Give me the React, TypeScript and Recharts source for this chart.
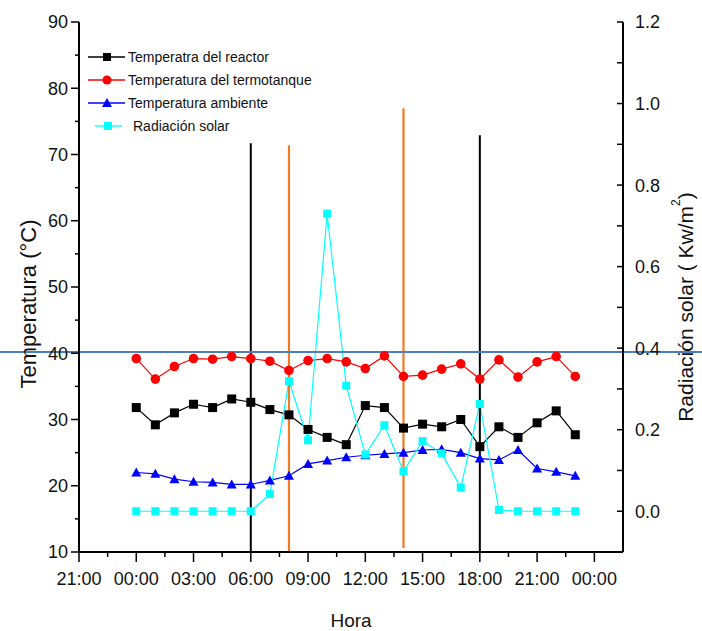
import React from "react";
import { LineChart, Line, XAxis, YAxis, ReferenceLine, Legend, Label } from "recharts";

// Horas del día (0 = 00:00) y lecturas horarias
const horas = [0, 1, 2, 3, 4, 5, 6, 7, 8, 9, 10, 11, 12, 13, 14, 15, 16, 17, 18, 19, 20, 21, 22, 23];
const reactor = [31.8, 29.2, 31.0, 32.3, 31.8, 33.1, 32.6, 31.5, 30.7, 28.5, 27.3, 26.2, 32.1, 31.8, 28.7, 29.3, 28.9, 30.0, 25.9, 28.9, 27.3, 29.5, 31.3, 27.7];
const termotanque = [39.2, 36.1, 38.0, 39.2, 39.1, 39.5, 39.2, 38.8, 37.4, 38.9, 39.2, 38.7, 37.7, 39.6, 36.5, 36.7, 37.6, 38.4, 36.1, 39.0, 36.4, 38.7, 39.5, 36.5];
const ambiente = [22.0, 21.8, 21.0, 20.6, 20.5, 20.2, 20.2, 20.8, 21.5, 23.3, 23.8, 24.3, 24.6, 24.8, 25.0, 25.4, 25.5, 25.0, 24.1, 23.9, 25.4, 22.6, 22.1, 21.5];
const radiacion = [0, 0, 0, 0, 0, 0, 0, 0.042, 0.319, 0.174, 0.73, 0.308, 0.139, 0.211, 0.098, 0.172, 0.142, 0.058, 0.263, 0.003, 0, 0, 0, 0];

// Ejes
const horaTicks = [-3, -1.5, 0, 1.5, 3, 4.5, 6, 7.5, 9, 10.5, 12, 13.5, 15, 16.5, 18, 19.5, 21, 22.5, 24];
const tempTicks = [10, 15, 20, 25, 30, 35, 40, 45, 50, 55, 60, 65, 70, 75, 80, 85, 90];
const radTicks = [0, 0.1, 0.2, 0.3, 0.4, 0.5, 0.6, 0.7, 0.8, 0.9, 1.0, 1.1, 1.2];

// Marcas verticales: hora, temperatura de inicio y de fin
const marcasNegras = [
  { hora: 6, desde: 10, hasta: 71.7 },
  { hora: 18, desde: 10, hasta: 72.9 },
];
const marcasNaranjas = [
  { hora: 8, desde: 10, hasta: 71.4 },
  { hora: 14, desde: 10.6, hasta: 77.0 },
];
const nivelHorizontal = 40.2;

const data = horas.map((h, i) => ({
  hora: h,
  reactor: reactor[i],
  termotanque: termotanque[i],
  ambiente: ambiente[i],
  radiacion: radiacion[i],
}));

const FONT = "'Liberation Sans', Arial, sans-serif";

const fmtHora = (v: number) => {
  const h = ((v % 24) + 24) % 24;
  return `${String(h).padStart(2, "0")}:00`;
};

function HoraTick(props: any) {
  const { x, y, payload } = props;
  const v = payload.value;
  const major = Number.isInteger(v) && v % 3 === 0;
  return (
    <g>
      <line x1={x} y1={y} x2={x} y2={y + (major ? 10 : 5)} stroke="#000" strokeWidth={1.5} />
      {major && (
        <text x={x} y={y + 33} textAnchor="middle" fontSize={18} fontFamily={FONT} fill="#111">
          {fmtHora(v)}
        </text>
      )}
    </g>
  );
}

function TopTick(props: any) {
  const { x, y, payload } = props;
  const major = Number.isInteger(payload.value) && payload.value % 3 === 0;
  return <line x1={x} y1={y} x2={x} y2={y + (major ? 5 : 3)} stroke="#000" strokeWidth={1} />;
}

function TempTick(props: any) {
  const { x, y, payload } = props;
  const major = payload.value % 10 === 0;
  return (
    <g>
      <line x1={x - (major ? 8 : 4)} y1={y} x2={x} y2={y} stroke="#000" strokeWidth={1.5} />
      {major && (
        <text x={x - 11} y={y} dy="0.36em" textAnchor="end" fontSize={18} fontFamily={FONT} fill="#111">
          {payload.value}
        </text>
      )}
    </g>
  );
}

function RadTick(props: any) {
  const { x, y, payload } = props;
  const major = Math.round(payload.value * 10) % 2 === 0;
  return (
    <g>
      <line x1={x - 6} y1={y} x2={x} y2={y} stroke="#000" strokeWidth={1.5} />
      {major && (
        <text x={x + 12} y={y} dy="0.36em" textAnchor="start" fontSize={18} fontFamily={FONT} fill="#111">
          {payload.value.toFixed(1)}
        </text>
      )}
    </g>
  );
}

const squareDot = (color: string, size: number) => (p: any) => (
  <rect key={`sq-${color}-${p.index}`} x={p.cx - size / 2} y={p.cy - size / 2} width={size} height={size} fill={color} />
);
const circleDot = (color: string, r: number) => (p: any) => (
  <circle key={`ci-${p.index}`} cx={p.cx} cy={p.cy} r={r} fill={color} />
);
const triangleDot = (color: string, s: number) => (p: any) => (
  <polygon
    key={`tr-${p.index}`}
    points={`${p.cx},${p.cy - s / 2} ${p.cx - s / 2},${p.cy + s / 2 - 1} ${p.cx + s / 2},${p.cy + s / 2 - 1}`}
    fill={color}
  />
);

const leyenda = [
  { nombre: "Temperatra del reactor", color: "#000000", marca: "square" },
  { nombre: "Temperatura del termotanque", color: "#ff0000", marca: "circle" },
  { nombre: "Temperatura ambiente", color: "#0000ff", marca: "triangle" },
  { nombre: "Radiación solar", color: "#00ffff", marca: "dash" },
];

function Leyenda() {
  return (
    <svg width={230} height={100} style={{ display: "block" }}>
      {leyenda.map((s, i) => {
        const cy = 13 + i * 23;
        const dashed = s.marca === "dash";
        const mx = dashed ? 22 : 21;
        return (
          <g key={s.nombre}>
            {dashed ? (
              <>
                <line x1={9} y1={cy} x2={18} y2={cy} stroke={s.color} strokeWidth={1.3} />
                <line x1={26} y1={cy} x2={36} y2={cy} stroke={s.color} strokeWidth={1.3} />
                <rect x={mx - 4} y={cy - 4} width={8} height={8} fill={s.color} />
              </>
            ) : (
              <>
                <line x1={2} y1={cy} x2={39} y2={cy} stroke={s.color} strokeWidth={1.3} />
                {s.marca === "square" && <rect x={mx - 4} y={cy - 4} width={8} height={8} fill={s.color} />}
                {s.marca === "circle" && <circle cx={mx} cy={cy} r={4.5} fill={s.color} />}
                {s.marca === "triangle" && (
                  <polygon points={`${mx},${cy - 5} ${mx - 5},${cy + 4} ${mx + 5},${cy + 4}`} fill={s.color} />
                )}
              </>
            )}
            <text x={dashed ? 47 : 42} y={cy} dy="0.36em" fontSize={14} fontFamily={FONT} fill="#111">
              {s.nombre}
            </text>
          </g>
        );
      })}
    </svg>
  );
}

export default function App() {
  return (
    <div style={{ position: "absolute", left: 0, top: 0, background: "#fff" }}>
      <LineChart
        width={702}
        height={631}
        data={data}
        margin={{ top: 22, right: 0, bottom: 0, left: 0 }}
        style={{ fontFamily: FONT }}
      >
        <XAxis
          dataKey="hora"
          type="number"
          domain={[-3, 25.5]}
          ticks={horaTicks}
          interval={0}
          height={79}
          tickSize={0}
          tickMargin={0}
          tickLine={false}
          tick={<HoraTick />}
          axisLine={{ stroke: "#000", strokeWidth: 2 }}
          allowDataOverflow
        >
          <Label
            content={(p: any) => {
              const vb = p.viewBox;
              return (
                <text x={vb.x + vb.width / 2} y={vb.y + 75} textAnchor="middle" fontSize={19} fontFamily={FONT} fill="#111">
                  Hora
                </text>
              );
            }}
          />
        </XAxis>
        <XAxis
          xAxisId="top"
          orientation="top"
          dataKey="hora"
          type="number"
          domain={[-3, 25.5]}
          ticks={horaTicks}
          interval={0}
          height={0}
          tickSize={0}
          tickMargin={0}
          tickLine={false}
          tick={<TopTick />}
          axisLine={{ stroke: "#000", strokeWidth: 2 }}
          allowDataOverflow
        />
        <YAxis
          yAxisId="temp"
          type="number"
          domain={[10, 90]}
          ticks={tempTicks}
          interval={0}
          width={79}
          tickSize={0}
          tickMargin={0}
          tickLine={false}
          tick={<TempTick />}
          axisLine={{ stroke: "#000", strokeWidth: 2 }}
          allowDataOverflow
        >
          <Label
            content={(p: any) => {
              const vb = p.viewBox;
              const cx = vb.x + 28;
              const cy = vb.y + vb.height / 2 + 17;
              return (
                <text
                  x={cx}
                  y={cy}
                  transform={`rotate(-90, ${cx}, ${cy})`}
                  textAnchor="middle"
                  dominantBaseline="central"
                  fontSize={22}
                  fontFamily={FONT}
                  fill="#111"
                >
                  Temperatura (°C)
                </text>
              );
            }}
          />
        </YAxis>
        <YAxis
          yAxisId="rad"
          orientation="right"
          type="number"
          domain={[-0.1, 1.2]}
          ticks={radTicks}
          interval={0}
          width={79}
          tickSize={0}
          tickMargin={0}
          tickLine={false}
          tick={<RadTick />}
          axisLine={{ stroke: "#000", strokeWidth: 2 }}
          allowDataOverflow
        >
          <Label
            content={(p: any) => {
              const vb = p.viewBox;
              const cx = vb.x + 62;
              const cy = vb.y + vb.height / 2 + 20;
              return (
                <text
                  x={cx}
                  y={cy}
                  transform={`rotate(-90, ${cx}, ${cy})`}
                  textAnchor="middle"
                  dominantBaseline="central"
                  fontSize={21}
                  fontFamily={FONT}
                  fill="#111"
                >
                  <tspan>Radiación solar (  Kw/m</tspan>
                  <tspan dy={-9} fontSize={12}>2</tspan>
                  <tspan dy={9}>)</tspan>
                </text>
              );
            }}
          />
        </YAxis>

        <Legend
          layout="vertical"
          align="center"
          verticalAlign="middle"
          width={230}
          wrapperStyle={{ left: 86, top: 44 }}
          content={() => <Leyenda />}
        />

        <Line
          yAxisId="temp"
          dataKey="reactor"
          stroke="#000000"
          strokeWidth={1.2}
          dot={squareDot("#000000", 9)}
          activeDot={false}
          isAnimationActive={false}
        />
        <Line
          yAxisId="temp"
          dataKey="termotanque"
          stroke="#ff0000"
          strokeWidth={1.2}
          dot={circleDot("#ff0000", 4.8)}
          activeDot={false}
          isAnimationActive={false}
        />
        <Line
          yAxisId="temp"
          dataKey="ambiente"
          stroke="#0000ff"
          strokeWidth={1.2}
          dot={triangleDot("#0000ff", 10)}
          activeDot={false}
          isAnimationActive={false}
        />
        <Line
          yAxisId="rad"
          dataKey="radiacion"
          stroke="#00ffff"
          strokeWidth={1.2}
          dot={squareDot("#00ffff", 8)}
          activeDot={false}
          isAnimationActive={false}
        />

        {marcasNegras.map((m) => (
          <ReferenceLine
            key={`n-${m.hora}`}
            yAxisId="temp"
            segment={[
              { x: m.hora, y: m.desde },
              { x: m.hora, y: m.hasta },
            ]}
            stroke="#000"
            strokeWidth={2}
          />
        ))}
        {marcasNaranjas.map((m) => (
          <ReferenceLine
            key={`o-${m.hora}`}
            yAxisId="temp"
            segment={[
              { x: m.hora, y: m.desde },
              { x: m.hora, y: m.hasta },
            ]}
            stroke="#ef7b22"
            strokeWidth={2.2}
          />
        ))}
        <ReferenceLine
          yAxisId="temp"
          segment={[
            { x: -7.2, y: nivelHorizontal },
            { x: 29.7, y: nivelHorizontal },
          ]}
          ifOverflow="visible"
          stroke="#4a7ebc"
          strokeWidth={2}
        />
      </LineChart>
    </div>
  );
}
